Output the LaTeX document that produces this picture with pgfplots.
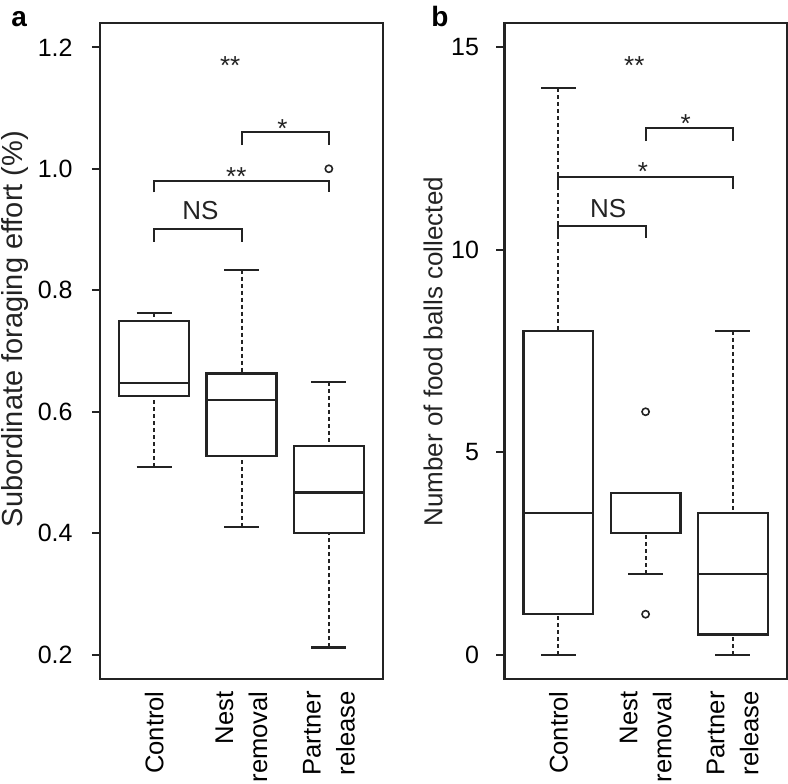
\documentclass[border=0pt]{standalone}
\usepackage{fontspec}
\setmainfont{Liberation Sans}
\usepackage{pgfplots}
\pgfplotsset{compat=1.18}
\usepgfplotslibrary{statistics}
\definecolor{ink}{RGB}{35,35,35}
\tikzset{ann/.style={anchor=base, text=ink, font=\fontsize{13}{15}\selectfont}}

\pgfplotsset{
  panel/.style={
    scale only axis,
    height=328pt,
    xmin=0.38, xmax=3.62,
    axis line style={ink, line width=1.1pt},
    xtick={1,2,3},
    xticklabels={Control,{Nest\\removal},{Partner\\release}},
    x tick style={draw=none},
    xticklabel style={rotate=90, anchor=east, align=right, inner sep=0pt,
      font=\fontsize{12.8}{17}\selectfont},
    xticklabel shift=2pt,
    ytick pos=left,
    tick align=outside,
    major tick length=4pt,
    y tick style={ink, line width=0.9pt},
    yticklabel style={anchor=east, inner sep=0pt, font=\fontsize{12.5}{14}\selectfont},
    /pgf/number format/assume math mode=true,
    clip=false,
    boxplot/draw direction=y,
    boxplot/every box/.style={ink, line width=1.1pt},
    boxplot/every median/.style={ink, line width=1.1pt},
    boxplot/every whisker/.style={ink, line width=1.1pt},
    boxplot/box extend=0.8,
    boxplot/whisker extend=0.4,
    boxplot/draw/lower whisker/.code={%
      \draw[ink, line width=1.0pt, dash pattern=on 2pt off 1.5pt]
        (boxplot box cs:\pgfplotsboxplotvalue{lower whisker},0.5) --
        (boxplot box cs:\pgfplotsboxplotvalue{lower quartile},0.5);
      \draw[ink, line width=1.1pt]
        (boxplot whisker cs:\pgfplotsboxplotvalue{lower whisker},0) --
        (boxplot whisker cs:\pgfplotsboxplotvalue{lower whisker},1);
    },
    boxplot/draw/upper whisker/.code={%
      \draw[ink, line width=1.0pt, dash pattern=on 2pt off 1.5pt]
        (boxplot box cs:\pgfplotsboxplotvalue{upper whisker},0.5) --
        (boxplot box cs:\pgfplotsboxplotvalue{upper quartile},0.5);
      \draw[ink, line width=1.1pt]
        (boxplot whisker cs:\pgfplotsboxplotvalue{upper whisker},0) --
        (boxplot whisker cs:\pgfplotsboxplotvalue{upper whisker},1);
    },
  },
  bx/.style={ink, mark=o, mark size=1.8pt, mark options={solid, ink, line width=0.8pt}},
  br/.style={ink, line width=1.0pt, mark=none},
}

\begin{document}
\begin{tikzpicture}
\path[use as bounding box] (0,0) rectangle (394pt,391.5pt);

% ---------------- panel a ----------------
\begin{axis}[panel,
  at={(50pt,52pt)}, anchor=south west, width=141.5pt,
  ymin=0.16, ymax=1.24,
  ytick={0.2,0.4,0.6,0.8,1.0,1.2},
  yticklabel style={/pgf/number format/.cd, fixed, fixed zerofill, precision=1},
  yticklabel shift=9.5pt,
  ylabel={Subordinate foraging effort (\%)},
  ylabel style={at={(rel axis cs:-0.300,0.5335)}, anchor=center, rotate=0,
    font=\fontsize{14.5}{16}\selectfont, text=ink},
]
\addplot[bx, boxplot prepared={draw position=1,
  lower whisker=0.509, lower quartile=0.626, median=0.647,
  upper quartile=0.750, upper whisker=0.762}] coordinates {};
\addplot[bx, boxplot prepared={draw position=2,
  lower whisker=0.410, lower quartile=0.527, median=0.619,
  upper quartile=0.663, upper whisker=0.834}] coordinates {};
\addplot[bx, boxplot prepared={draw position=3,
  lower whisker=0.212, lower quartile=0.400, median=0.467,
  upper quartile=0.544, upper whisker=0.649}] coordinates {(0,1.0)};

\addplot[br] coordinates {(2,1.039) (2,1.061) (3,1.061) (3,1.039)};
\addplot[br] coordinates {(1,0.961) (1,0.980) (3,0.980) (3,0.961)};
\addplot[br] coordinates {(1,0.880) (1,0.901) (2,0.901) (2,0.880)};

\node[ann] at (axis cs:1.87,1.155) {**};
\node[ann] at (axis cs:2.47,1.052) {*};
\node[ann] at (axis cs:1.94,0.973) {**};
\node[ann] at (axis cs:1.53,0.916) {NS};

\node[anchor=base, text=black, font=\bfseries\fontsize{14}{16}\selectfont]
  at (rel axis cs:-0.286,0.994) {a};
\end{axis}

% ---------------- panel b ----------------
\begin{axis}[panel,
  at={(252.2pt,52pt)}, anchor=south west, width=141.2pt,
  ymin=-0.6, ymax=15.6,
  ytick={0,5,10,15},
  yticklabel shift=8.5pt,
  ylabel={Number of food balls collected},
  ylabel style={at={(rel axis cs:-0.2525,0.499)}, anchor=center, rotate=0,
    font=\fontsize{13}{15}\selectfont, text=ink},
]
\addplot[bx, boxplot prepared={draw position=1,
  lower whisker=0, lower quartile=1, median=3.5,
  upper quartile=8, upper whisker=14}] coordinates {};
\addplot[bx, boxplot prepared={draw position=2,
  lower whisker=2, lower quartile=3, median=3,
  upper quartile=4, upper whisker=4}] coordinates {(0,6) (0,1)};
\addplot[bx, boxplot prepared={draw position=3,
  lower whisker=0, lower quartile=0.5, median=2,
  upper quartile=3.5, upper whisker=8}] coordinates {};

\addplot[br] coordinates {(2,12.68) (2,13.0) (3,13.0) (3,12.68)};
\addplot[br] coordinates {(1,11.49) (1,11.79) (3,11.79) (3,11.49)};
\addplot[br] coordinates {(1,10.28) (1,10.58) (2,10.58) (2,10.28)};

\node[ann] at (axis cs:1.87,14.33) {**};
\node[ann] at (axis cs:2.46,12.89) {*};
\node[ann] at (axis cs:1.97,11.70) {*};
\node[ann] at (axis cs:1.57,10.80) {NS};

\node[anchor=base, text=black, font=\bfseries\fontsize{14}{16}\selectfont]
  at (rel axis cs:-0.228,0.994) {b};
\end{axis}
\end{tikzpicture}
\end{document}
